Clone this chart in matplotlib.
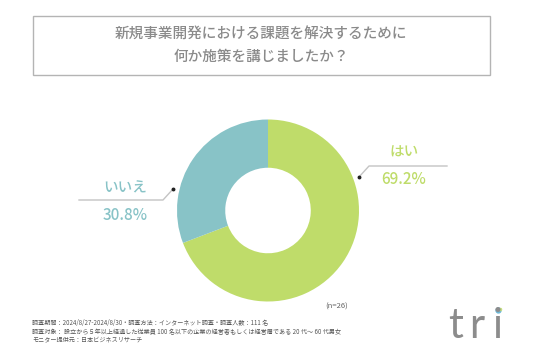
import matplotlib.pyplot as plt
from matplotlib.patches import Rectangle

plt.rcParams['font.family'] = ['Noto Sans CJK JP', 'DejaVu Sans']

# data
labels = ['はい', 'いいえ']
values = [69.2, 30.8]
colors = ['#bfdc6a', '#88c3c7']
title = '新規事業開発における課題を解決するために\n何か施策を講じましたか？'
n_text = '(n=26)'
notes = ['調査期間：2024/8/27-2024/8/30・調査方法：インターネット調査・調査人数：111 名',
         '調査対象： 設立から５年以上経過した従業員 100 名以下の企業の経営者もしくは経営層である 20 代～ 60 代男女',
         'モニター提供元：日本ビジネスリサーチ']

W, H = 536, 357
fig = plt.figure(figsize=(W / 100, H / 100), dpi=100)
ax = fig.add_axes([0, 0, 1, 1])
ax.set_xlim(0, W)
ax.set_ylim(H, 0)
ax.axis('off')

# title box
ax.add_patch(Rectangle((33, 16), 457, 59, fill=False, edgecolor='#b4b4b4', lw=1.0))
ax.text(261, 46, title, ha='center', va='center', fontsize=10.5, color='#8a8a8a',
        fontweight='medium', linespacing=1.75)

# donut
pie_ax = fig.add_axes([(268 - 91) / W, 1 - (210.5 + 91) / H, 182 / W, 182 / H])
pie_ax.pie(values, colors=colors, startangle=90, counterclock=False,
           wedgeprops=dict(width=0.53, linewidth=0))
pie_ax.set_xlim(-1, 1)
pie_ax.set_ylim(-1, 1)
pie_ax.set_aspect('equal')
pie_ax.axis('off')

# leader lines
line_col = '#c4c4c4'
ax.plot([79, 163, 173], [200, 200, 189], color=line_col, lw=1.0)
ax.plot([173], [189], 'o', color='#222222', ms=1.8)
ax.plot([359, 369, 447], [177, 166, 166], color=line_col, lw=1.0)
ax.plot([359], [177], 'o', color='#222222', ms=1.8)

# labels
ax.text(125, 188, labels[1], ha='center', va='center', fontsize=10.5,
        color=colors[1], fontweight='medium')
ax.text(125, 215, f'{values[1]}%', ha='center', va='center', fontsize=11,
        color=colors[1], fontweight='medium')
ax.text(404, 153, labels[0], ha='center', va='center', fontsize=10.5,
        color=colors[0], fontweight='medium')
ax.text(404, 180, f'{values[0]}%', ha='center', va='center', fontsize=11,
        color=colors[0], fontweight='medium')

ax.text(337, 307, n_text, ha='center', va='center', fontsize=5.5, color='#666666')

for i, note in enumerate(notes):
    ax.text(32, 323.5 + i * 8.5, note, ha='left', va='center', fontsize=4.4, color='#555555')

# logo
for ch, x in zip('tri', [456, 477, 498]):
    ax.text(x, 338, ch, ha='center', va='baseline', fontsize=30, color='#8c8c8c',
            family='Lato', fontweight='normal')
ax.plot([498], [310], 'o', color='#6bb8d8', ms=3.5)
ax.plot([499.5], [308.5], 'o', color='#c4e07a', ms=1.5)

fig.savefig('out.png', dpi=100)
